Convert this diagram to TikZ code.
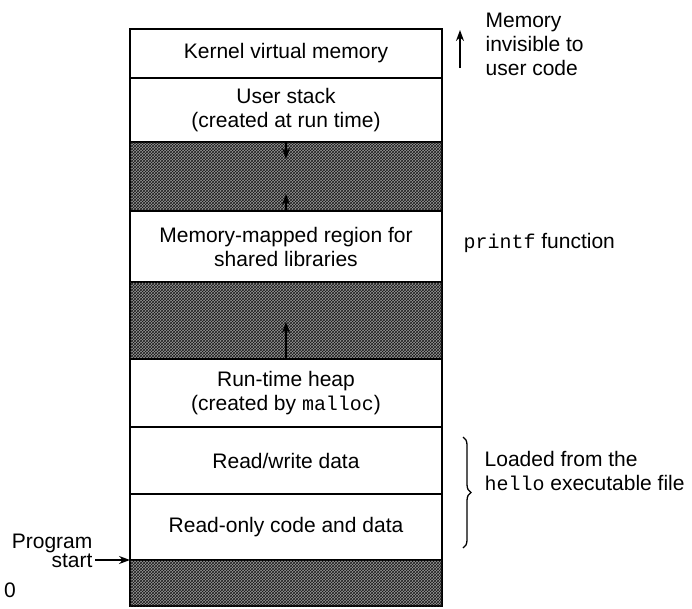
\documentclass[tikz,border=0pt]{standalone}
\usepackage{fontspec}
\setmainfont{Liberation Sans}
\setmonofont[Scale=0.95]{Liberation Mono}
\usetikzlibrary{arrows.meta,positioning,patterns,decorations.pathreplacing}

\begin{document}
\begin{tikzpicture}[x=1pt,y=-1pt,>={Stealth[length=11pt,width=8pt]},line width=1.3pt,
                    font=\fontsize{21}{24}\selectfont]
  \tikzstyle{region}=[rectangle,draw=black,line width=1.6pt,fill=white,
                      minimum width=312pt,inner sep=0pt,outer sep=0pt,align=center]
  \tikzstyle{gap}=[region,fill=black!40,
                   postaction={pattern=crosshatch,pattern color=black!90}]
  \tikzstyle{note}=[anchor=west,align=left,inner sep=0pt]

  \useasboundingbox (0,0) rectangle (692,608);

  % the address space, top to bottom
  \node[region,minimum height=49pt,anchor=north] (kernel) at (286,29) {Kernel virtual memory};
  \node[region,minimum height=64pt] (stack)  [below=0pt of kernel] {User stack\\(created at run time)};
  \node[gap,minimum height=69pt]    (gap1)   [below=0pt of stack]  {};
  \node[region,minimum height=71pt] (mmap)   [below=0pt of gap1]   {Memory-mapped region for\\shared libraries};
  \node[gap,minimum height=77pt]    (gap2)   [below=0pt of mmap]   {};
  \node[region,minimum height=68pt] (heap)   [below=0pt of gap2]   {Run-time heap\\(created by \texttt{malloc})};
  \node[region,minimum height=67pt] (rwdata) [below=0pt of heap]   {Read/write data};
  \node[region,minimum height=66pt] (rodata) [below=0pt of rwdata] {Read-only code and data};
  \node[gap,minimum height=46pt]    (gap3)   [below=0pt of rodata] {};

  \coordinate[below=17pt of gap1.north] (stacktip);
  \coordinate[above=17pt of gap1.south] (mmaptip);
  \coordinate[above=37pt of gap2.south] (heaptip);

  % notes on the right
  \coordinate (invlo) at (460,68);
  \coordinate (invhi) at (460,30);
  \node[note] (invisible) at (485,44) {Memory\\invisible to\\user code};
  \node[note] (printf)    at (463,243) {\texttt{printf} function};
  \coordinate (bracetop) at (463,437);
  \coordinate (bracebot) at (463,548);
  \node[note] (loaded)    at (484,471) {Loaded from the\\\texttt{hello} executable file};

  % notes on the left
  \node[anchor=east,align=right,inner sep=0pt,font=\fontsize{21}{19}\selectfont]
       (progstart) at (93,551) {Program\\start};
  \coordinate (startfrom) at (95,560);
  \node[inner sep=0pt] (zero) at (10,590) {0};

  \path[->]
  (gap1.north) edge (stacktip)
  (gap1.south) edge (mmaptip)
  (gap2.south) edge (heaptip)
  (invlo) edge[line width=1.6pt] (invhi)
  (startfrom) edge (rodata.south west)
  ;
  \draw[decorate,decoration={brace,amplitude=8pt}] (bracetop) -- (bracebot);

\end{tikzpicture}
\end{document}
